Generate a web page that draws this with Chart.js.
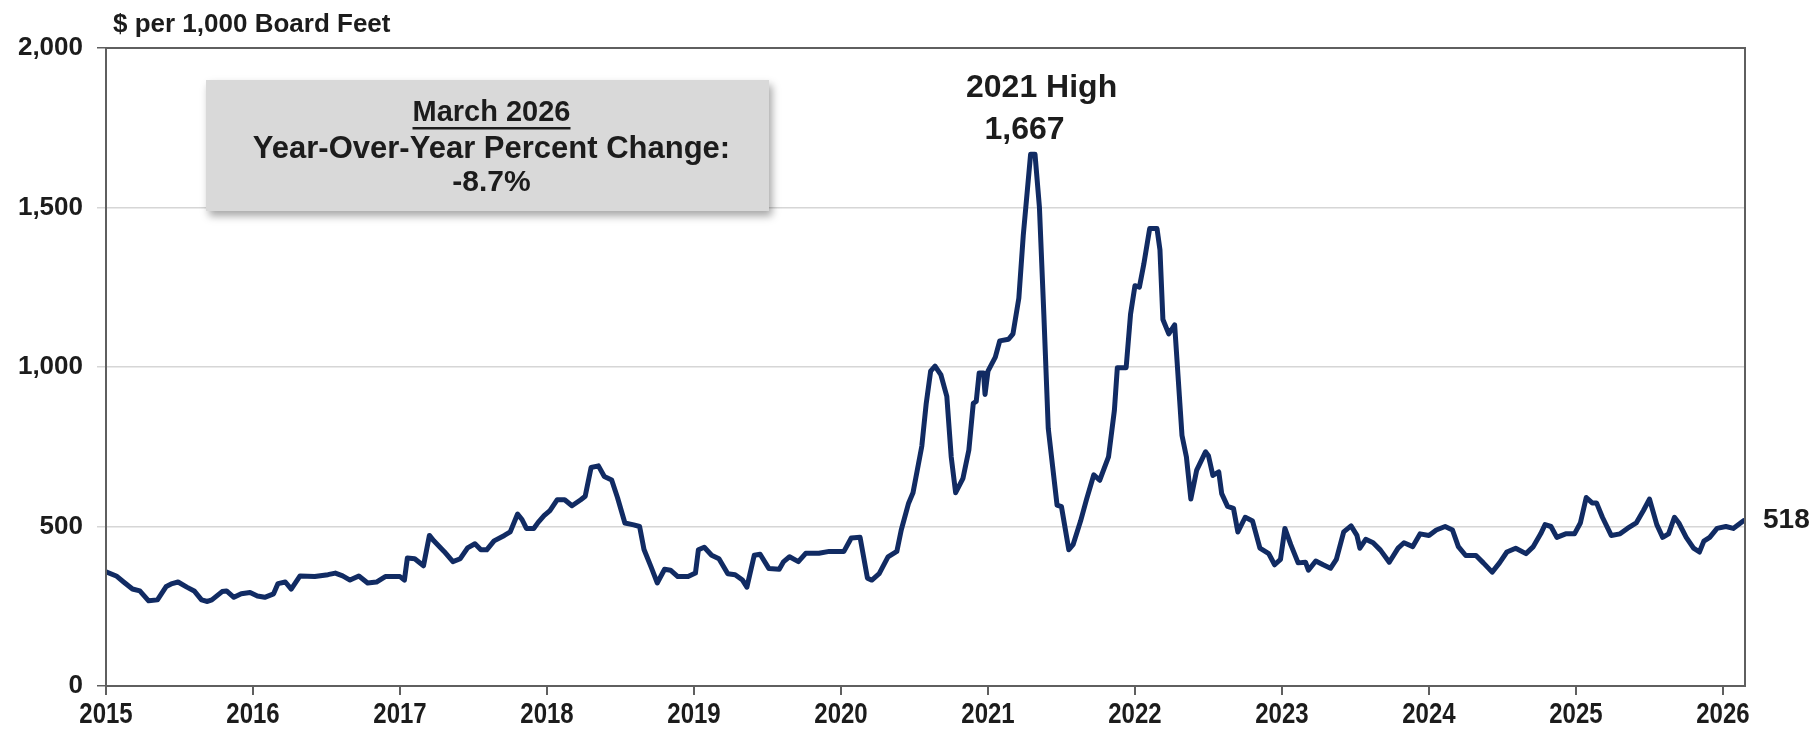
<!DOCTYPE html>
<html>
<head>
<meta charset="utf-8">
<script src="https://cdn.jsdelivr.net/npm/chart.js@4"></script>
<style>
  html, body { margin: 0; padding: 0; background: #fff; }
  #wrap { width: 1816px; height: 729px; }
</style>
</head>
<body>
<div id="wrap"><canvas id="lumber" width="1816" height="729"></canvas></div>
<script>
// Framing lumber price, $ per 1,000 board feet (decimal year -> price)
const dates = [
  2015.00, 2015.07, 2015.12, 2015.18, 2015.23, 2015.29, 2015.35, 2015.41, 2015.45, 2015.49,
  2015.55, 2015.60, 2015.65, 2015.69, 2015.72, 2015.79, 2015.82, 2015.87, 2015.92, 2015.98,
  2016.03, 2016.08, 2016.14, 2016.17, 2016.22, 2016.26, 2016.32, 2016.42, 2016.51, 2016.56,
  2016.61, 2016.66, 2016.72, 2016.78, 2016.84, 2016.90, 2017.00, 2017.03, 2017.05, 2017.10,
  2017.16, 2017.20, 2017.23, 2017.30, 2017.36, 2017.41, 2017.46, 2017.51, 2017.55, 2017.59,
  2017.64, 2017.71, 2017.75, 2017.80, 2017.83, 2017.86, 2017.91, 2017.94, 2017.98, 2018.02,
  2018.07, 2018.12, 2018.17, 2018.23, 2018.26, 2018.30, 2018.35, 2018.39, 2018.44, 2018.48,
  2018.53, 2018.59, 2018.63, 2018.66, 2018.71, 2018.75, 2018.80, 2018.84, 2018.89, 2018.96,
  2019.01, 2019.03, 2019.07, 2019.12, 2019.17, 2019.23, 2019.28, 2019.33, 2019.36, 2019.41,
  2019.45, 2019.51, 2019.58, 2019.61, 2019.65, 2019.71, 2019.76, 2019.85, 2019.92, 2020.02,
  2020.07, 2020.13, 2020.18, 2020.21, 2020.26, 2020.32, 2020.38, 2020.41, 2020.46, 2020.49,
  2020.55, 2020.58, 2020.61, 2020.64, 2020.68, 2020.72, 2020.75, 2020.78, 2020.83, 2020.87,
  2020.90, 2020.92, 2020.94, 2020.97, 2020.98, 2021.00, 2021.05, 2021.08, 2021.14, 2021.17,
  2021.21, 2021.24, 2021.29, 2021.32, 2021.35, 2021.38, 2021.41, 2021.47, 2021.50, 2021.55,
  2021.58, 2021.63, 2021.67, 2021.72, 2021.76, 2021.82, 2021.86, 2021.88, 2021.94, 2021.97,
  2022.00, 2022.03, 2022.06, 2022.10, 2022.15, 2022.17, 2022.19, 2022.23, 2022.27, 2022.32,
  2022.35, 2022.38, 2022.42, 2022.48, 2022.50, 2022.53, 2022.57, 2022.59, 2022.63, 2022.67,
  2022.70, 2022.75, 2022.80, 2022.85, 2022.91, 2022.95, 2022.99, 2023.02, 2023.06, 2023.11,
  2023.16, 2023.18, 2023.23, 2023.28, 2023.33, 2023.37, 2023.42, 2023.47, 2023.51, 2023.53,
  2023.57, 2023.62, 2023.67, 2023.73, 2023.79, 2023.83, 2023.89, 2023.94, 2024.00, 2024.05,
  2024.11, 2024.16, 2024.20, 2024.25, 2024.32, 2024.37, 2024.43, 2024.48, 2024.53, 2024.59,
  2024.66, 2024.71, 2024.76, 2024.79, 2024.83, 2024.87, 2024.93, 2024.99, 2025.03, 2025.07,
  2025.11, 2025.14, 2025.18, 2025.24, 2025.30, 2025.35, 2025.41, 2025.46, 2025.50, 2025.55,
  2025.59, 2025.63, 2025.67, 2025.70, 2025.75, 2025.80, 2025.84, 2025.87, 2025.91, 2025.96,
  2026.02, 2026.07, 2026.14
];
const prices = [
  358, 345, 326, 304, 298, 267, 270, 312, 321, 326,
  310, 298, 270, 265, 270, 296, 298, 278, 289, 293,
  282, 278, 289, 321, 326, 304, 345, 343, 349, 354,
  345, 332, 345, 323, 326, 343, 343, 332, 401, 399,
  377, 472, 455, 422, 390, 399, 433, 446, 427, 427,
  455, 472, 483, 539, 522, 494, 494, 513, 534, 550,
  584, 584, 565, 584, 595, 685, 690, 657, 646, 590,
  511, 505, 500, 428, 371, 323, 366, 363, 343, 343,
  354, 427, 435, 410, 399, 352, 349, 332, 310, 410,
  413, 368, 366, 390, 405, 390, 416, 416, 422, 422,
  464, 466, 338, 332, 352, 405, 422, 489, 573, 606,
  752, 886, 987, 1003, 975, 908, 718, 606, 651, 740,
  886, 892, 981, 981, 914, 987, 1031, 1082, 1087, 1104,
  1216, 1412, 1667, 1667, 1501, 1166, 808, 567, 562, 427,
  444, 517, 584, 662, 645, 718, 864, 998, 998, 1166,
  1255, 1250, 1322, 1434, 1434, 1367, 1149, 1104, 1132, 785,
  718, 586, 677, 734, 722, 660, 671, 603, 563, 557,
  483, 529, 517, 432, 415, 380, 397, 494, 443, 386,
  388, 363, 392, 380, 369, 397, 483, 502, 472, 432,
  460, 449, 426, 388, 432, 449, 437, 477, 472, 489,
  500, 489, 437, 409, 409, 386, 357, 386, 420, 432,
  415, 437, 477, 506, 500, 466, 477, 477, 511, 591,
  574, 574, 529, 472, 477, 494, 511, 551, 586, 506,
  466, 477, 529, 511, 466, 432, 420, 454, 466, 494,
  500, 494, 518
];
const yearTicks = [2015, 2016, 2017, 2018, 2019, 2020, 2021, 2022, 2023, 2024, 2025, 2026];
const priceTicks = [0, 500, 1000, 1500, 2000];

const unitLabel = "$ per 1,000 Board Feet";
const boxTitle = "March 2026";
const boxLine = "Year-Over-Year Percent Change:";
const yoyChange = -8.7;
const highTitle = "2021 High";

const NAVY = "#112b63";
const FRAME = "#5f5f5f";
const GRID = "#d6d6d6";
const TEXT = "#1c1c1c";
const SANS = "'Liberation Sans', Arial, sans-serif";

const fmt = (v) => v.toLocaleString("en-US");

// frame round the plot area, plus the condensed year labels under the ticks
const framePlugin = {
  id: "frame",
  afterDraw(chart) {
    const { ctx, chartArea: a } = chart;
    const xs = chart.scales.x;
    ctx.save();
    ctx.strokeStyle = FRAME;
    ctx.lineWidth = 2;
    ctx.strokeRect(a.left, a.top, a.right - a.left, a.bottom - a.top);

    ctx.fillStyle = TEXT;
    ctx.font = `bold 30px ${SANS}`;
    ctx.textAlign = "center";
    ctx.textBaseline = "middle";
    yearTicks.forEach((v) => {
      ctx.save();
      ctx.translate(xs.getPixelForValue(v), 715);
      ctx.scale(0.8, 1);
      ctx.fillText(String(v), 0, 0);
      ctx.restore();
    });
    ctx.restore();
  },
};

// unit label, YoY box, peak and last-value callouts
const notesPlugin = {
  id: "notes",
  afterDraw(chart) {
    const { ctx } = chart;
    const xs = chart.scales.x;
    const ys = chart.scales.y;
    ctx.save();
    ctx.fillStyle = TEXT;
    ctx.textBaseline = "middle";

    ctx.font = `bold 26px ${SANS}`;
    ctx.textAlign = "left";
    ctx.fillText(unitLabel, 113, 25);

    // YoY box with soft drop shadow
    const bx = 206, by = 80, bw = 563, bh = 131;
    ctx.save();
    ctx.shadowColor = "rgba(0,0,0,0.35)";
    ctx.shadowBlur = 8;
    ctx.shadowOffsetX = 3;
    ctx.shadowOffsetY = 5;
    ctx.fillStyle = "#d9d9d9";
    ctx.fillRect(bx, by, bw, bh);
    ctx.restore();

    const cx = bx + bw / 2 + 4;
    ctx.textAlign = "center";
    ctx.fillStyle = TEXT;
    ctx.font = `bold 29px ${SANS}`;
    ctx.fillText(boxTitle, cx, 113);
    const tw = ctx.measureText(boxTitle).width;
    ctx.fillRect(cx - tw / 2, 127, tw, 2.5);
    ctx.font = `bold 31px ${SANS}`;
    ctx.fillText(boxLine, cx, 149);
    ctx.font = `bold 30px ${SANS}`;
    ctx.fillText(yoyChange.toFixed(1) + "%", cx, 183);

    // 2021 high
    let hi = 0;
    prices.forEach((p, i) => { if (p > prices[hi]) hi = i; });
    const px = xs.getPixelForValue(dates[hi]);
    const py = ys.getPixelForValue(prices[hi]);
    ctx.font = `bold 32px ${SANS}`;
    ctx.fillText(highTitle, px + 11, py - 66);
    ctx.fillText(fmt(prices[hi]), px - 6, py - 24);

    // latest value at right edge
    const last = prices.length - 1;
    ctx.textAlign = "left";
    ctx.font = `bold 28px ${SANS}`;
    ctx.fillText(fmt(prices[last]), 1763, ys.getPixelForValue(prices[last]));
    ctx.restore();
  },
};

const ctx = document.getElementById("lumber").getContext("2d");
new Chart(ctx, {
  type: "line",
  data: {
    datasets: [
      {
        data: dates.map((d, i) => ({ x: d, y: prices[i] })),
        borderColor: NAVY,
        borderWidth: 5,
        pointRadius: 0,
        tension: 0,
        borderJoinStyle: "round",
        borderCapStyle: "round",
      },
    ],
  },
  options: {
    responsive: false,
    animation: false,
    layout: { padding: { top: 48, right: 71, left: 0, bottom: 0 } },
    plugins: { legend: { display: false }, tooltip: { enabled: false } },
    scales: {
      x: {
        type: "linear",
        min: 2015,
        max: 2026.15,
        afterBuildTicks: (axis) => { axis.ticks = yearTicks.map((v) => ({ value: v })); },
        afterFit: (axis) => { axis.height = 43; },
        ticks: { display: false },
        grid: { drawOnChartArea: false, drawTicks: true, tickLength: 9, color: FRAME, lineWidth: 2 },
        border: { display: false },
      },
      y: {
        min: 0,
        max: 2000,
        afterBuildTicks: (axis) => { axis.ticks = priceTicks.map((v) => ({ value: v })); },
        afterFit: (axis) => { axis.width = 106; },
        ticks: {
          padding: 14,
          color: TEXT,
          font: { family: SANS, size: 26, weight: "bold" },
          callback: (v) => fmt(v),
        },
        grid: {
          tickLength: 9,
          lineWidth: 1.5,
          color: (c) => (c.tick && (c.tick.value === 0 || c.tick.value === 2000) ? FRAME : GRID),
        },
        border: { display: false },
      },
    },
  },
  plugins: [framePlugin, notesPlugin],
});
</script>
</body>
</html>
